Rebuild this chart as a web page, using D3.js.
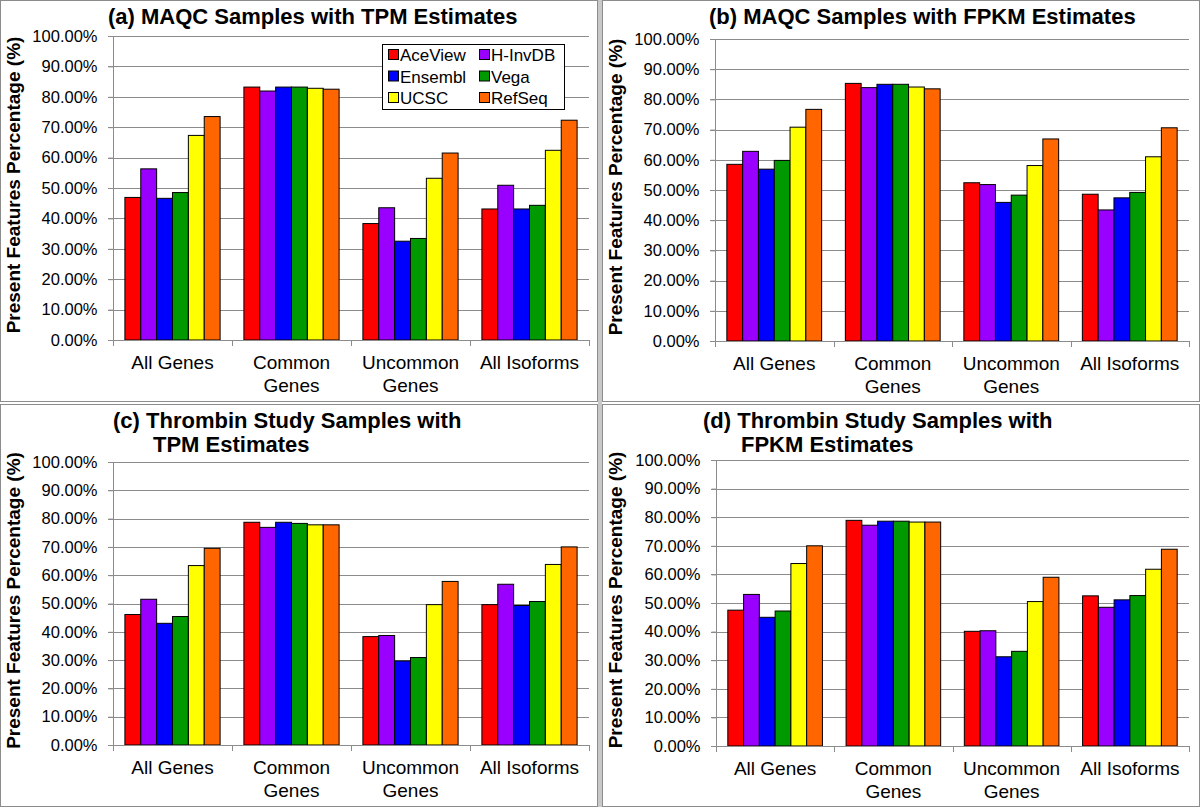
<!DOCTYPE html>
<html>
<head>
<meta charset="utf-8">
<script src="https://cdn.jsdelivr.net/npm/d3@7"></script>
<style>
  body { margin: 0; background: #fff; }
  svg { display: block; font-family: "Liberation Sans", Arial, sans-serif; }
</style>
</head>
<body>
<script>
// Data
const categories = ["All Genes", "Common Genes", "Uncommon Genes", "All Isoforms"];
const categoryLines = [["All Genes"], ["Common", "Genes"], ["Uncommon", "Genes"], ["All Isoforms"]];
const seriesNames = ["AceView", "H-InvDB", "Ensembl", "Vega", "UCSC", "RefSeq"];
const seriesColors = ["#ff0000", "#9900ff", "#0000ff", "#009900", "#ffff00", "#ff6600"];
const yTicks = [0, 10, 20, 30, 40, 50, 60, 70, 80, 90, 100];

// values per category, in series order
const maqcTpm = [
    [46.9, 56.3, 46.6, 48.5, 67.3, 73.5],
    [83.2, 81.9, 83.2, 83.2, 82.8, 82.5],
    [38.3, 43.5, 32.5, 33.4, 53.2, 61.5],
    [43.1, 50.9, 43.1, 44.3, 62.4, 72.3]
];
const maqcFpkm = [
    [58.5, 62.8, 56.9, 59.8, 70.8, 76.7],
    [85.3, 83.9, 85.0, 85.0, 84.1, 83.5],
    [52.4, 51.8, 45.9, 48.3, 58.1, 66.9],
    [48.6, 43.4, 47.4, 49.2, 61.0, 70.6]
];
const thrombinTpm = [
    [46.1, 51.5, 43.0, 45.4, 63.4, 69.5],
    [78.7, 76.9, 78.7, 78.3, 77.8, 77.8],
    [38.3, 38.7, 29.7, 30.9, 49.6, 57.8],
    [49.6, 56.8, 49.3, 50.7, 63.8, 70.0]
];
const thrombinFpkm = [
    [47.5, 53.0, 45.0, 47.2, 63.8, 70.0],
    [78.9, 77.2, 78.6, 78.6, 78.3, 78.3],
    [40.1, 40.3, 31.2, 33.1, 50.5, 59.0],
    [52.5, 48.5, 51.1, 52.6, 61.8, 68.8]
];

const yTitle = "Present Features Percentage (%)";

const panels = [
    { values: maqcTpm, title: [["(a) MAQC Samples with TPM Estimates", 108, 24]],
      box: [0, 0, 598, 402], left: 113, right: 589, top: 36, bottom: 340, legend: true },
    { values: maqcFpkm, title: [["(b) MAQC Samples with FPKM Estimates", 709, 24]],
      box: [602, 0, 1200, 402], left: 715, right: 1189, top: 39, bottom: 341 },
    { values: thrombinTpm, title: [["(c) Thrombin Study Samples with", 113, 428], ["TPM Estimates", 153, 452]],
      box: [0, 404, 598, 807], left: 113, right: 589, top: 462, bottom: 745 },
    { values: thrombinFpkm, title: [["(d) Thrombin Study Samples with", 703, 428], ["FPKM Estimates", 741, 452]],
      box: [602, 404, 1200, 807], left: 716, right: 1189, top: 460, bottom: 746 }
];

const svg = d3.select("body").append("svg")
    .attr("width", 1200)
    .attr("height", 807);

// light separator band between left and right panels
svg.append("rect")
    .attr("x", 598).attr("y", 0)
    .attr("width", 4).attr("height", 807)
    .attr("fill", "#c8c8c8");

const fmt = d3.format(".2f");

panels.forEach(p => {
    const g = svg.append("g");

    // panel border
    g.append("rect")
        .attr("x", p.box[0] + 0.5).attr("y", p.box[1] + 0.5)
        .attr("width", p.box[2] - p.box[0] - 1)
        .attr("height", p.box[3] - p.box[1] - 1)
        .attr("fill", "#fff")
        .attr("stroke", "#8c8c8c");

    const x0 = d3.scaleBand().domain(categories).range([p.left, p.right]).padding(0);
    const x1 = d3.scaleBand().domain(seriesNames).range([0, x0.bandwidth()])
        .paddingInner(0).paddingOuter(0.75);
    const y = d3.scaleLinear().domain([0, 100]).range([p.bottom, p.top]);

    // gridlines
    g.selectAll(".grid").data(yTicks.slice(1)).enter().append("line")
        .attr("x1", p.left - 5).attr("x2", p.right)
        .attr("y1", d => Math.round(y(d)) + 0.5).attr("y2", d => Math.round(y(d)) + 0.5)
        .attr("stroke", "#8c8c8c").attr("stroke-width", 1);

    // y axis
    const yAxis = d3.axisLeft(y).tickValues(yTicks).tickSize(5).tickPadding(11)
        .tickFormat(d => fmt(d) + "%");
    g.append("g")
        .attr("transform", `translate(${Math.round(p.left) + 0.5},0)`)
        .call(yAxis)
        .call(a => a.select(".domain").remove())
        .call(a => a.selectAll(".tick line").attr("stroke", "#8c8c8c"))
        .call(a => a.selectAll(".tick text")
            .attr("fill", "#000")
            .style("font-size", "16.5px"));
    g.append("line")
        .attr("x1", Math.round(p.left) + 0.5).attr("x2", Math.round(p.left) + 0.5)
        .attr("y1", p.top).attr("y2", p.bottom + 6)
        .attr("stroke", "#8c8c8c");

    // bars
    const groups = g.selectAll(".cat").data(p.values).enter().append("g")
        .attr("transform", (d, i) => `translate(${x0(categories[i])},0)`);
    groups.selectAll("rect").data(d => d).enter().append("rect")
        .attr("x", (d, j) => x1(seriesNames[j]))
        .attr("y", d => y(d))
        .attr("width", x1.bandwidth())
        .attr("height", d => y(0) - y(d))
        .attr("fill", (d, j) => seriesColors[j])
        .attr("stroke", "#000")
        .attr("stroke-width", 1);

    // x axis
    g.append("line")
        .attr("x1", p.left - 5).attr("x2", p.right)
        .attr("y1", Math.round(y(0)) + 0.5).attr("y2", Math.round(y(0)) + 0.5)
        .attr("stroke", "#8c8c8c");
    const bounds = categories.map(c => x0(c)).concat([p.right]);
    g.selectAll(".xtick").data(bounds).enter().append("line")
        .attr("x1", d => Math.round(d) + 0.5).attr("x2", d => Math.round(d) + 0.5)
        .attr("y1", y(0)).attr("y2", y(0) + 6)
        .attr("stroke", "#8c8c8c");

    // category labels
    categoryLines.forEach((lines, i) => {
        lines.forEach((t, k) => {
            g.append("text")
                .attr("x", x0(categories[i]) + x0.bandwidth() / 2)
                .attr("y", p.bottom + 29 + k * 23)
                .attr("text-anchor", "middle")
                .style("font-size", "19px")
                .text(t);
        });
    });

    // y axis title
    g.append("text")
        .attr("transform", `translate(${p.box[0] + 20},${(p.top + p.bottom) / 2 - 3}) rotate(-90)`)
        .attr("text-anchor", "middle")
        .style("font-size", "19px")
        .style("font-weight", "bold")
        .text(yTitle);

    // title
    p.title.forEach(([t, tx, ty]) => {
        g.append("text")
            .attr("x", tx).attr("y", ty)
            .style("font-size", "22px")
            .style("font-weight", "bold")
            .text(t);
    });

    // legend
    if (p.legend) {
        const lg = g.append("g").attr("transform", "translate(382,44)");
        lg.append("rect")
            .attr("x", 0.5).attr("y", 0.5)
            .attr("width", 182).attr("height", 65)
            .attr("fill", "#fff").attr("stroke", "#000");
        seriesNames.forEach((s, j) => {
            const col = j % 2, row = Math.floor(j / 2);
            const item = lg.append("g")
                .attr("transform", `translate(${6 + col * 91},${11 + row * 21.5})`);
            item.append("rect")
                .attr("x", 0.5).attr("y", -5.5)
                .attr("width", 10).attr("height", 10)
                .attr("fill", seriesColors[j]).attr("stroke", "#000");
            item.append("text")
                .attr("x", 12).attr("y", 6)
                .style("font-size", "17px")
                .text(s);
        });
    }
});
</script>
</body>
</html>
